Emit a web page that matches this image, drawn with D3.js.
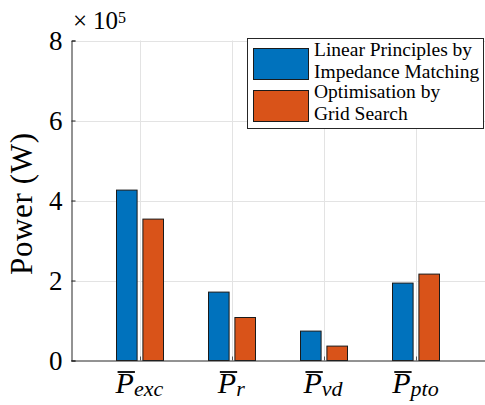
<!DOCTYPE html>
<html>
<head>
<meta charset="utf-8">
<script src="https://cdn.jsdelivr.net/npm/d3@7"></script>
<style>
  html, body { margin: 0; padding: 0; background: #fff; }
</style>
</head>
<body>
<div id="chart"></div>
<script>
// data
const categories = ["exc", "r", "vd", "pto"];
const seriesKeys = ["linear", "grid"];
const seriesLabels = [
  ["Linear Principles by", "Impedance Matching"],
  ["Optimisation by", "Grid Search"]
];
const seriesColors = ["#0072BD", "#D95319"];
const linearValues = [426000, 171000, 73500, 193500];
const gridValues = [353500, 107500, 36000, 216000];
const yTicks = [0, 200000, 400000, 600000, 800000];
const yTickLabels = ["0", "2", "4", "6", "8"];

const FONT = "'Liberation Serif', 'Times New Roman', 'DejaVu Serif'";
const W = 485, H = 405;
const margin = {top: 40.5, right: 0, bottom: 44.5, left: 71};

const svg = d3.select("#chart").append("svg")
  .attr("width", W)
  .attr("height", H)
  .style("font-family", FONT)
  .style("display", "block");

const x = d3.scalePoint()
  .domain(categories)
  .range([margin.left, W - margin.right])
  .padding(0.75);

const xInner = d3.scaleBand()
  .domain(seriesKeys)
  .range([-23.5, 23.5])
  .paddingInner(0.22);

const y = d3.scaleLinear()
  .domain([0, 800000])
  .range([H - margin.bottom, margin.top]);

const table = categories.map((c, i) => ({cat: c, linear: linearValues[i], grid: gridValues[i]}));

// grid lines
const grid = svg.append("g").attr("stroke", "#e3e3e3").attr("stroke-width", 1);
grid.selectAll(".hg")
  .data(yTicks.slice(1))
  .join("line")
  .attr("x1", margin.left).attr("x2", W)
  .attr("y1", d => Math.round(y(d)) + 0.5).attr("y2", d => Math.round(y(d)) + 0.5);
grid.selectAll(".vg")
  .data(categories)
  .join("line")
  .attr("x1", d => Math.round(x(d)) + 0.5).attr("x2", d => Math.round(x(d)) + 0.5)
  .attr("y1", margin.top).attr("y2", H - margin.bottom);

// bars
const groups = svg.append("g").selectAll("g")
  .data(table)
  .join("g")
  .attr("transform", d => `translate(${x(d.cat)},0)`);

groups.selectAll("rect")
  .data(d => seriesKeys.map((k, j) => ({key: k, value: d[k], color: seriesColors[j]})))
  .join("rect")
  .attr("x", d => xInner(d.key))
  .attr("width", xInner.bandwidth())
  .attr("y", d => y(d.value))
  .attr("height", d => y(0) - y(d.value))
  .attr("fill", d => d.color)
  .attr("stroke", "#1a1a1a")
  .attr("stroke-width", 1);

// axes
const yAxis = svg.append("g")
  .attr("transform", `translate(${margin.left + 0.5},0)`)
  .call(d3.axisLeft(y).tickValues(yTicks).tickSize(-4).tickPadding(9)
    .tickFormat((d, i) => yTickLabels[i]));
yAxis.attr("font-family", null).attr("font-size", null);
yAxis.select(".domain").attr("stroke", "#262626");
yAxis.selectAll(".tick line").attr("stroke", "#262626");
yAxis.selectAll("text")
  .style("font-family", FONT)
  .attr("font-size", 27)
  .attr("fill", "#000")
  .attr("dy", "0.34em");

const xAxis = svg.append("g")
  .attr("transform", `translate(0,${H - margin.bottom})`)
  .call(d3.axisBottom(x).tickSize(-4).tickFormat(""));
xAxis.select(".domain").attr("stroke", "#262626").attr("d", `M${margin.left},0.5H${W}`);
xAxis.selectAll(".tick line").attr("stroke", "#555");

// x tick labels: P-bar with subscript
const labels = svg.append("g").selectAll("g")
  .data(categories)
  .join("g");

labels.each(function(c) {
  const g = d3.select(this);
  const t = g.append("text")
    .attr("y", 393)
    .style("font-family", FONT)
    .attr("font-style", "italic")
    .attr("fill", "#000");
  t.append("tspan").attr("font-size", 30).text("P");
  t.append("tspan").attr("font-size", 22).attr("dy", 3).text(c);
  const bb = t.node().getBBox();
  t.attr("x", x(c) - bb.width / 2);
  const p = t.node().getExtentOfChar(0);
  g.append("line")
    .attr("x1", p.x + 2).attr("x2", p.x + p.width + 1)
    .attr("y1", 372).attr("y2", 372)
    .attr("stroke", "#000").attr("stroke-width", 1.8);
});

// exponent label
const expo = svg.append("text")
  .attr("y", 29)
  .attr("font-size", 25)
  .attr("fill", "#000");
expo.append("tspan").attr("x", 73).text("\u00d7");
expo.append("tspan").attr("x", 93).text("10");
expo.append("tspan").attr("x", 118).attr("font-size", 16).attr("y", 23).text("5");

// y label
svg.append("text")
  .attr("transform", "translate(32,204) rotate(-90)")
  .attr("text-anchor", "middle")
  .attr("font-size", 31)
  .attr("textLength", 142)
  .attr("lengthAdjust", "spacing")
  .attr("fill", "#000")
  .text("Power (W)");

// legend
const legend = svg.append("g");
legend.append("rect")
  .attr("x", 247.5).attr("y", 38.5)
  .attr("width", 236).attr("height", 90)
  .attr("fill", "#fff")
  .attr("stroke", "#262626").attr("stroke-width", 1);

const items = legend.selectAll("g.item")
  .data(seriesLabels)
  .join("g")
  .attr("transform", (d, i) => `translate(0,${i * 42})`);
items.append("rect")
  .attr("x", 253.5).attr("y", 48.5)
  .attr("width", 55).attr("height", 31)
  .attr("fill", (d, i) => seriesColors[i])
  .attr("stroke", "#1a1a1a");
items.append("text")
  .attr("x", 314).attr("y", 56)
  .attr("font-size", 19.5)
  .attr("fill", "#000")
  .selectAll("tspan")
  .data(d => d)
  .join("tspan")
  .attr("x", 314)
  .attr("dy", (d, i) => i === 0 ? 0 : 22)
  .text(d => d);
</script>
</body>
</html>
